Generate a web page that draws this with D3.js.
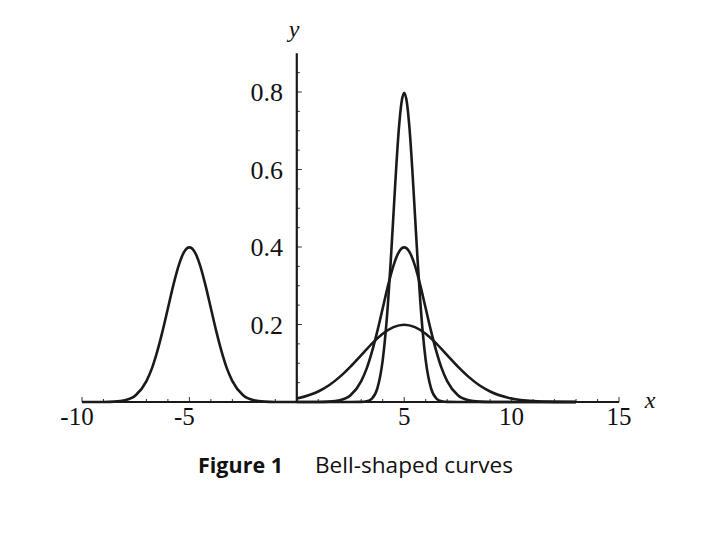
<!DOCTYPE html>
<html>
<head>
<meta charset="utf-8">
<script src="https://cdn.jsdelivr.net/npm/d3@7"></script>
<style>
  body { margin: 0; background: #fff; }
  svg { display: block; }
</style>
</head>
<body>
<div id="chart"></div>
<script>
// Values (x, density)
const leftX  = [-10, -9, -8.5, -8, -7.5, -7, -6.75, -6.5, -6.25, -6, -5.75, -5.5, -5.25, -5,
                -4.75, -4.5, -4.25, -4, -3.75, -3.5, -3.25, -3, -2.5, -2, -1.5, -1, 0];
const leftY  = [0, 0.0001, 0.0009, 0.0044, 0.0175, 0.054, 0.086, 0.13, 0.183, 0.242, 0.301, 0.352, 0.387, 0.399,
                0.387, 0.352, 0.301, 0.242, 0.183, 0.13, 0.086, 0.054, 0.0175, 0.0044, 0.0009, 0.0001, 0];

const midX   = [0, 1, 1.5, 2, 2.5, 3, 3.25, 3.5, 3.75, 4, 4.25, 4.5, 4.75, 5,
                5.25, 5.5, 5.75, 6, 6.25, 6.5, 6.75, 7, 7.5, 8, 8.5, 9, 10, 13];
const midY   = [0, 0.0001, 0.0009, 0.0044, 0.0175, 0.054, 0.086, 0.13, 0.183, 0.242, 0.301, 0.352, 0.387, 0.399,
                0.387, 0.352, 0.301, 0.242, 0.183, 0.13, 0.086, 0.054, 0.0175, 0.0044, 0.0009, 0.0001, 0, 0];

const tallX  = [0, 2.5, 3, 3.25, 3.5, 3.75, 4, 4.125, 4.25, 4.375, 4.5, 4.625, 4.75, 4.875, 5,
                5.125, 5.25, 5.375, 5.5, 5.625, 5.75, 5.875, 6, 6.25, 6.5, 6.75, 7, 7.5, 13];
const tallY  = [0, 0, 0.0003, 0.0018, 0.0089, 0.035, 0.108, 0.173, 0.259, 0.365, 0.484, 0.602, 0.704, 0.773, 0.798,
                0.773, 0.704, 0.602, 0.484, 0.365, 0.259, 0.173, 0.108, 0.035, 0.0089, 0.0018, 0.0003, 0, 0];

const wideX  = [0, 1, 1.5, 2, 2.5, 3, 3.5, 4, 4.5, 5, 5.5, 6, 6.5, 7, 7.5, 8, 8.5, 9, 10, 11, 12, 13];
const wideY  = [0.0088, 0.027, 0.0431, 0.0648, 0.0913, 0.121, 0.1506, 0.176, 0.1933, 0.1995,
                0.1933, 0.176, 0.1506, 0.121, 0.0913, 0.0648, 0.0431, 0.027, 0.0088, 0.0022, 0.0004, 0.0001];

const xTickLabels = [-10, -5, 5, 10, 15];
const yTickLabels = [0.2, 0.4, 0.6, 0.8];

const width = 710, height = 533;

const svg = d3.select('#chart')
    .append('svg')
    .attr('width', width)
    .attr('height', height);

const x = d3.scaleLinear().domain([-10, 15]).range([82, 619]);
const y = d3.scaleLinear().domain([0, 0.9]).range([402, 53.25]);

const serif = '"Liberation Serif", "Times New Roman", serif';

// Minor / major ticks on x axis (pointing up)
const xTicks = d3.range(-10, 16, 1).filter(v => v !== 0);
svg.append('g').selectAll('line')
    .data(xTicks)
    .enter()
    .append('line')
    .attr('x1', d => x(d))
    .attr('x2', d => x(d))
    .attr('y1', y(0))
    .attr('y2', d => y(0) - (d % 5 === 0 ? 5 : 3))
    .attr('stroke', '#333')
    .attr('stroke-width', 1);

// Ticks on y axis (pointing right)
const yTicks = d3.range(1, 18).map(i => i * 0.05);
svg.append('g').selectAll('line')
    .data(yTicks)
    .enter()
    .append('line')
    .attr('x1', x(0))
    .attr('x2', (d, i) => x(0) + ((i + 1) % 4 === 0 ? 5 : 3))
    .attr('y1', d => y(d))
    .attr('y2', d => y(d))
    .attr('stroke', '#333')
    .attr('stroke-width', 1);

// Axis lines
svg.append('line')
    .attr('x1', x(-10)).attr('x2', x(15))
    .attr('y1', y(0)).attr('y2', y(0))
    .attr('stroke', '#1a1a1a')
    .attr('stroke-width', 2.2);

svg.append('line')
    .attr('x1', x(0)).attr('x2', x(0))
    .attr('y1', y(0)).attr('y2', y(0.9))
    .attr('stroke', '#1a1a1a')
    .attr('stroke-width', 2.2);

// Curves
const line = d3.line()
    .x(d => x(d[0]))
    .y(d => y(d[1]))
    .curve(d3.curveMonotoneX);

const curves = [
    [leftX, leftY],
    [wideX, wideY],
    [midX, midY],
    [tallX, tallY]
];

curves.forEach(([xs, ys]) => {
    svg.append('path')
        .datum(xs.map((v, i) => [v, ys[i]]))
        .attr('d', line)
        .attr('fill', 'none')
        .attr('stroke', '#1a1a1a')
        .attr('stroke-width', 2.6)
        .attr('stroke-linejoin', 'round');
});

// Tick labels
svg.append('g').selectAll('text')
    .data(xTickLabels)
    .enter()
    .append('text')
    .attr('x', d => x(d) + (d < 0 ? -5 : 0))
    .attr('y', y(0) + 23)
    .attr('text-anchor', 'middle')
    .style('font-family', serif)
    .style('font-size', '25px')
    .style('fill', '#111')
    .text(d => d);

svg.append('g').selectAll('text')
    .data(yTickLabels)
    .enter()
    .append('text')
    .attr('x', 283)
    .attr('y', d => y(d) + 9)
    .attr('text-anchor', 'end')
    .style('font-family', serif)
    .style('font-size', '26px')
    .style('fill', '#111')
    .text(d => d.toFixed(1));

// Axis names
svg.append('text')
    .attr('x', 650)
    .attr('y', 408)
    .attr('text-anchor', 'middle')
    .style('font-family', serif)
    .style('font-style', 'italic')
    .style('font-size', '24px')
    .style('fill', '#111')
    .text('x');

svg.append('text')
    .attr('x', 294)
    .attr('y', 37)
    .attr('text-anchor', 'middle')
    .style('font-family', serif)
    .style('font-style', 'italic')
    .style('font-size', '24px')
    .style('fill', '#111')
    .text('y');

// Caption
const caption = svg.append('text')
    .attr('y', 473)
    .style('font-family', '"Open Sans", "Noto Sans", sans-serif')
    .style('font-size', '21px')
    .style('fill', '#111');

caption.append('tspan')
    .attr('x', 198)
    .attr('textLength', 85)
    .attr('lengthAdjust', 'spacingAndGlyphs')
    .style('font-weight', 'bold')
    .text('Figure 1');

caption.append('tspan')
    .attr('x', 315)
    .attr('textLength', 198)
    .attr('lengthAdjust', 'spacingAndGlyphs')
    .text('Bell-shaped curves');
</script>
</body>
</html>
